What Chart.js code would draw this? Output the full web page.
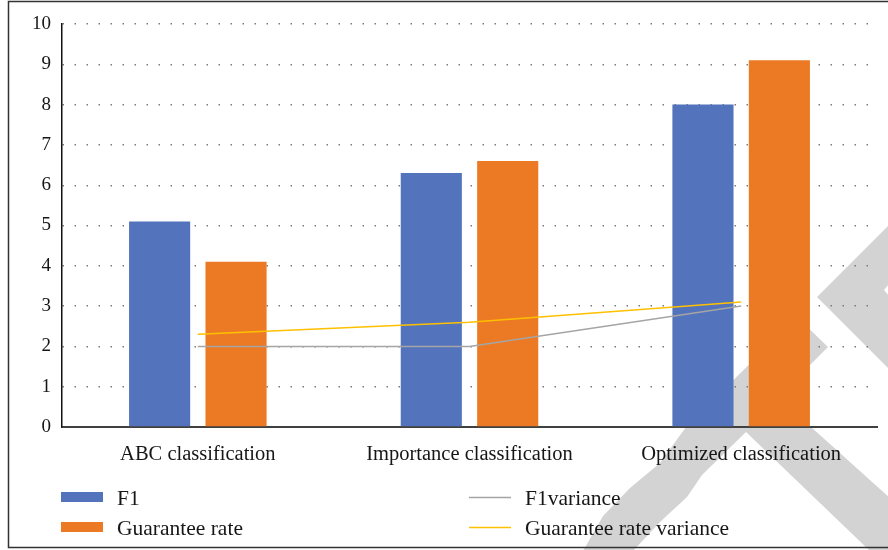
<!DOCTYPE html>
<html>
<head>
<meta charset="utf-8">
<script src="https://cdn.jsdelivr.net/npm/chart.js@4.4.1/dist/chart.umd.min.js"></script>
<style>
  html, body { margin: 0; padding: 0; background: #fff; }
  #wrap { width: 888px; height: 550px; }
</style>
</head>
<body>
<div id="wrap"><canvas id="chart" width="888" height="550"></canvas></div>
<script>
"use strict";

// Data
const categories = ['ABC classification', 'Importance classification', 'Optimized classification'];
const f1Scores = [5.1, 6.3, 8.0];
const guaranteeRates = [4.1, 6.6, 9.1];
const f1Variance = [2.0, 2.0, 3.0];
const guaranteeVariance = [2.3, 2.6, 3.1];
const yMin = 0;
const yMax = 10;
const yStep = 1;

const BLUE = '#5373BC';
const ORANGE = '#EC7A24';
const GREY = '#A5A5A5';
const GOLD = '#FFC000';
const TEXT = '#161616';

Chart.defaults.font.family = '"Liberation Serif", "DejaVu Serif", serif';
Chart.defaults.font.size = 20;
Chart.defaults.color = TEXT;

// Light grey swoosh behind the plot, plus white page
const backdrop = {
    id: 'backdrop',
    beforeDraw(chart) {
        const ctx = chart.ctx;
        ctx.save();
        ctx.fillStyle = '#fff';
        ctx.fillRect(0, 0, chart.width, chart.height);
        ctx.fillStyle = '#D3D3D3';
        const shapes = [
            [[583, 551], [603, 516], [630, 488], [660, 463], [686, 427], [797, 317], [828, 347],
             [778, 397], [811, 427], [890, 498], [890, 551], [870, 551], [746, 432], [702, 475],
             [687, 497], [660, 522], [633, 551]],
            [[817, 297], [890, 224], [890, 283], [884, 290], [890, 297], [890, 370]]
        ];
        shapes.forEach(function (pts) {
            ctx.beginPath();
            pts.forEach(function (p, i) {
                if (i === 0) ctx.moveTo(p[0], p[1]); else ctx.lineTo(p[0], p[1]);
            });
            ctx.closePath();
            ctx.fill();
        });
        ctx.restore();
    }
};

// Two-column legend under the axis, plus the frame
const gridLegend = {
    id: 'gridLegend',
    afterDraw(chart) {
        const ctx = chart.ctx;
        const cols = { bar: 61, line: 469 };
        const rows = [497, 527];
        const counters = { bar: 0, line: 0 };
        ctx.save();
        ctx.font = '21.5px "Liberation Serif", "DejaVu Serif", serif';
        ctx.textBaseline = 'middle';
        chart.data.datasets.forEach(function (ds) {
            const kind = ds.type === 'line' ? 'line' : 'bar';
            const x = cols[kind];
            const y = rows[counters[kind]++];
            if (kind === 'bar') {
                ctx.fillStyle = ds.backgroundColor;
                ctx.fillRect(x, y - 5, 42, 10);
            } else {
                ctx.strokeStyle = ds.borderColor;
                ctx.lineWidth = 1.5;
                ctx.beginPath();
                ctx.moveTo(x, y + 0.5);
                ctx.lineTo(x + 42, y + 0.5);
                ctx.stroke();
            }
            ctx.fillStyle = TEXT;
            ctx.fillText(ds.label, x + 56, y + 2);
        });
        ctx.strokeStyle = '#333';
        ctx.lineWidth = 1.5;
        ctx.strokeRect(8.5, 1.5, 900, 546);
        ctx.restore();
    }
};

new Chart(document.getElementById('chart'), {
    type: 'bar',
    data: {
        labels: categories,
        datasets: [{
            label: 'F1',
            data: f1Scores,
            backgroundColor: BLUE,
            order: 1,
        }, {
            label: 'Guarantee rate',
            data: guaranteeRates,
            backgroundColor: ORANGE,
            order: 1,
        }, {
            type: 'line',
            label: 'F1variance',
            data: f1Variance,
            borderColor: GREY,
            borderWidth: 1.5,
            pointRadius: 0,
            tension: 0,
            order: 0,
        }, {
            type: 'line',
            label: 'Guarantee rate variance',
            data: guaranteeVariance,
            borderColor: GOLD,
            borderWidth: 1.5,
            pointRadius: 0,
            tension: 0,
            order: 0,
        }]
    },
    options: {
        responsive: false,
        animation: false,
        categoryPercentage: 0.5625,
        barPercentage: 0.8,
        layout: { padding: { top: 24, right: 11, left: 0, bottom: 0 } },
        plugins: {
            legend: { display: false },
            tooltip: { enabled: false },
        },
        scales: {
            x: {
                grid: { display: false },
                border: { display: true, color: '#404040', width: 2 },
                ticks: { padding: 7, color: TEXT, font: { size: 20.5 } },
                afterFit(scale) { scale.height = 123; },
            },
            y: {
                min: yMin,
                max: yMax,
                ticks: { stepSize: yStep, padding: 11, color: TEXT, font: { size: 19 } },
                grid: {
                    drawTicks: false,
                    color: '#7a7a7a',
                    lineWidth: 1.4,
                },
                // dash here styles the dotted grid lines
                border: { display: true, color: '#111', width: 1.5, dash: [1.5, 10.5], dashOffset: 0 },
                afterFit(scale) { scale.width = 62; },
            },
        },
    },
    plugins: [backdrop, gridLegend],
});
</script>
</body>
</html>
